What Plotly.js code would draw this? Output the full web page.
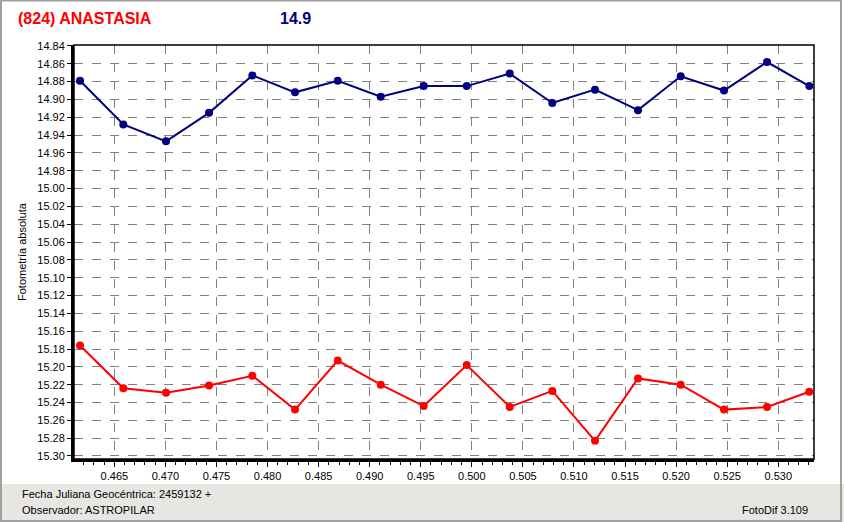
<!DOCTYPE html>
<html>
<head>
<meta charset="utf-8">
<script src="https://cdn.plot.ly/plotly-3.0.1.min.js"></script>
<style>
html,body{margin:0;padding:0;background:#fff;}
#chart{width:844px;height:522px;}
</style>
</head>
<body>
<div id="chart"></div>
<script>
// Geocentric Julian date fraction (JD - 2459132)
const jd = [0.46164, 0.46588, 0.47006, 0.47427, 0.47851, 0.48269, 0.48687, 0.49108, 0.49529,
            0.49950, 0.50371, 0.50788, 0.51206, 0.51627, 0.52045, 0.52469, 0.52890, 0.53304];
// Asteroid (824) Anastasia magnitudes
const magAsteroid = [14.879, 14.928, 14.947, 14.915, 14.873, 14.892, 14.879, 14.897, 14.885,
                     14.885, 14.871, 14.904, 14.889, 14.912, 14.874, 14.890, 14.858, 14.885];
// Comparison star magnitudes
const magComparison = [15.176, 15.224, 15.229, 15.221, 15.210, 15.248, 15.193, 15.220, 15.244,
                       15.198, 15.245, 15.227, 15.283, 15.213, 15.220, 15.248, 15.245, 15.228];

const titleText = "(824) ANASTASIA";
const meanMag = "14.9";
const yTitle = "Fotometría absoluta";
const footer1 = "Fecha Juliana Geocéntrica: 2459132 +";
const footer2 = "Observador: ASTROPILAR";
const footer3 = "FotoDif 3.109";

const L = 74, T = 45, R = 814, B = 459, W = 844, H = 522;
const px = v => (v - L) / (R - L);
const py = v => (B - v) / (B - T);

const font = "Liberation Sans, Arial, sans-serif";

const traces = [
  {x: jd, y: magAsteroid, mode: "lines+markers", type: "scatter",
   line: {color: "#000080", width: 2}, marker: {color: "#000080", size: 8, symbol: "circle"},
   hoverinfo: "x+y", showlegend: false},
  {x: jd, y: magComparison, mode: "lines+markers", type: "scatter",
   line: {color: "#ff0000", width: 2}, marker: {color: "#ff0000", size: 8, symbol: "circle"},
   hoverinfo: "x+y", showlegend: false}
];

const layout = {
  width: W, height: H,
  margin: {l: L, r: W - R, t: T, b: H - B, pad: 0},
  paper_bgcolor: "#ffffff", plot_bgcolor: "#ffffff",
  font: {family: font, size: 11, color: "#000"},
  xaxis: {
    range: [0.46105, 0.5335],
    tick0: 0.465, dtick: 0.005, tickformat: ".3f",
    ticks: "outside", ticklen: 5, tickcolor: "#000", tickwidth: 1,
    minor: {dtick: 0.001, ticks: "outside", ticklen: 3, tickcolor: "#000", showgrid: false},
    showgrid: true, gridcolor: "#808080", griddash: "dash", gridwidth: 1,
    showline: true, linecolor: "#000", linewidth: 3,
    zeroline: false,
    tickfont: {family: font, size: 11, color: "#000"}
  },
  yaxis: {
    range: [15.3034, 14.8389],
    tick0: 14.84, dtick: 0.02, tickformat: ".2f",
    ticks: "outside", ticklen: 4, tickcolor: "#000", tickwidth: 1,
    showgrid: true, gridcolor: "#808080", griddash: "dash", gridwidth: 1,
    showline: true, linecolor: "#000", linewidth: 3,
    zeroline: false,
    tickfont: {family: font, size: 11, color: "#000"}
  },
  shapes: [
    // footer band
    {type: "rect", xref: "paper", yref: "paper", x0: px(0), x1: px(W), y0: py(H), y1: py(484),
     fillcolor: "#e8e6e3", line: {width: 0}, layer: "below"},
    // plot frame top/right
    {type: "rect", xref: "paper", yref: "paper", x0: 0, x1: 1, y0: 0, y1: 1,
     line: {color: "#000", width: 1.5}, fillcolor: "rgba(0,0,0,0)"},
    // outer window border
    {type: "rect", xref: "paper", yref: "paper", x0: px(1), x1: px(841), y0: py(521), y1: py(0.5),
     line: {color: "#a0a0a0", width: 2}, fillcolor: "rgba(0,0,0,0)"}
  ],
  annotations: [
    {xref: "paper", yref: "paper", x: px(16), y: py(19), xanchor: "left", yanchor: "middle",
     text: titleText, showarrow: false, font: {family: font, size: 16, color: "#ff0000", weight: "bold"}},
    {xref: "paper", yref: "paper", x: px(278), y: py(19), xanchor: "left", yanchor: "middle",
     text: meanMag, showarrow: false, font: {family: font, size: 16, color: "#000080", weight: "bold"}},
    {xref: "paper", yref: "paper", x: px(22), y: py(252), xanchor: "center", yanchor: "middle",
     textangle: -90, text: yTitle, showarrow: false, font: {family: font, size: 11, color: "#000"}},
    {xref: "paper", yref: "paper", x: px(20), y: py(494), xanchor: "left", yanchor: "middle",
     text: footer1, showarrow: false, font: {family: font, size: 11, color: "#000"}},
    {xref: "paper", yref: "paper", x: px(20), y: py(510), xanchor: "left", yanchor: "middle",
     text: footer2, showarrow: false, font: {family: font, size: 11, color: "#000"}},
    {xref: "paper", yref: "paper", x: px(810), y: py(510), xanchor: "right", yanchor: "middle",
     text: footer3, showarrow: false, font: {family: font, size: 11, color: "#000"}}
  ]
};

Plotly.newPlot("chart", traces, layout, {displayModeBar: false, staticPlot: true});
</script>
</body>
</html>
